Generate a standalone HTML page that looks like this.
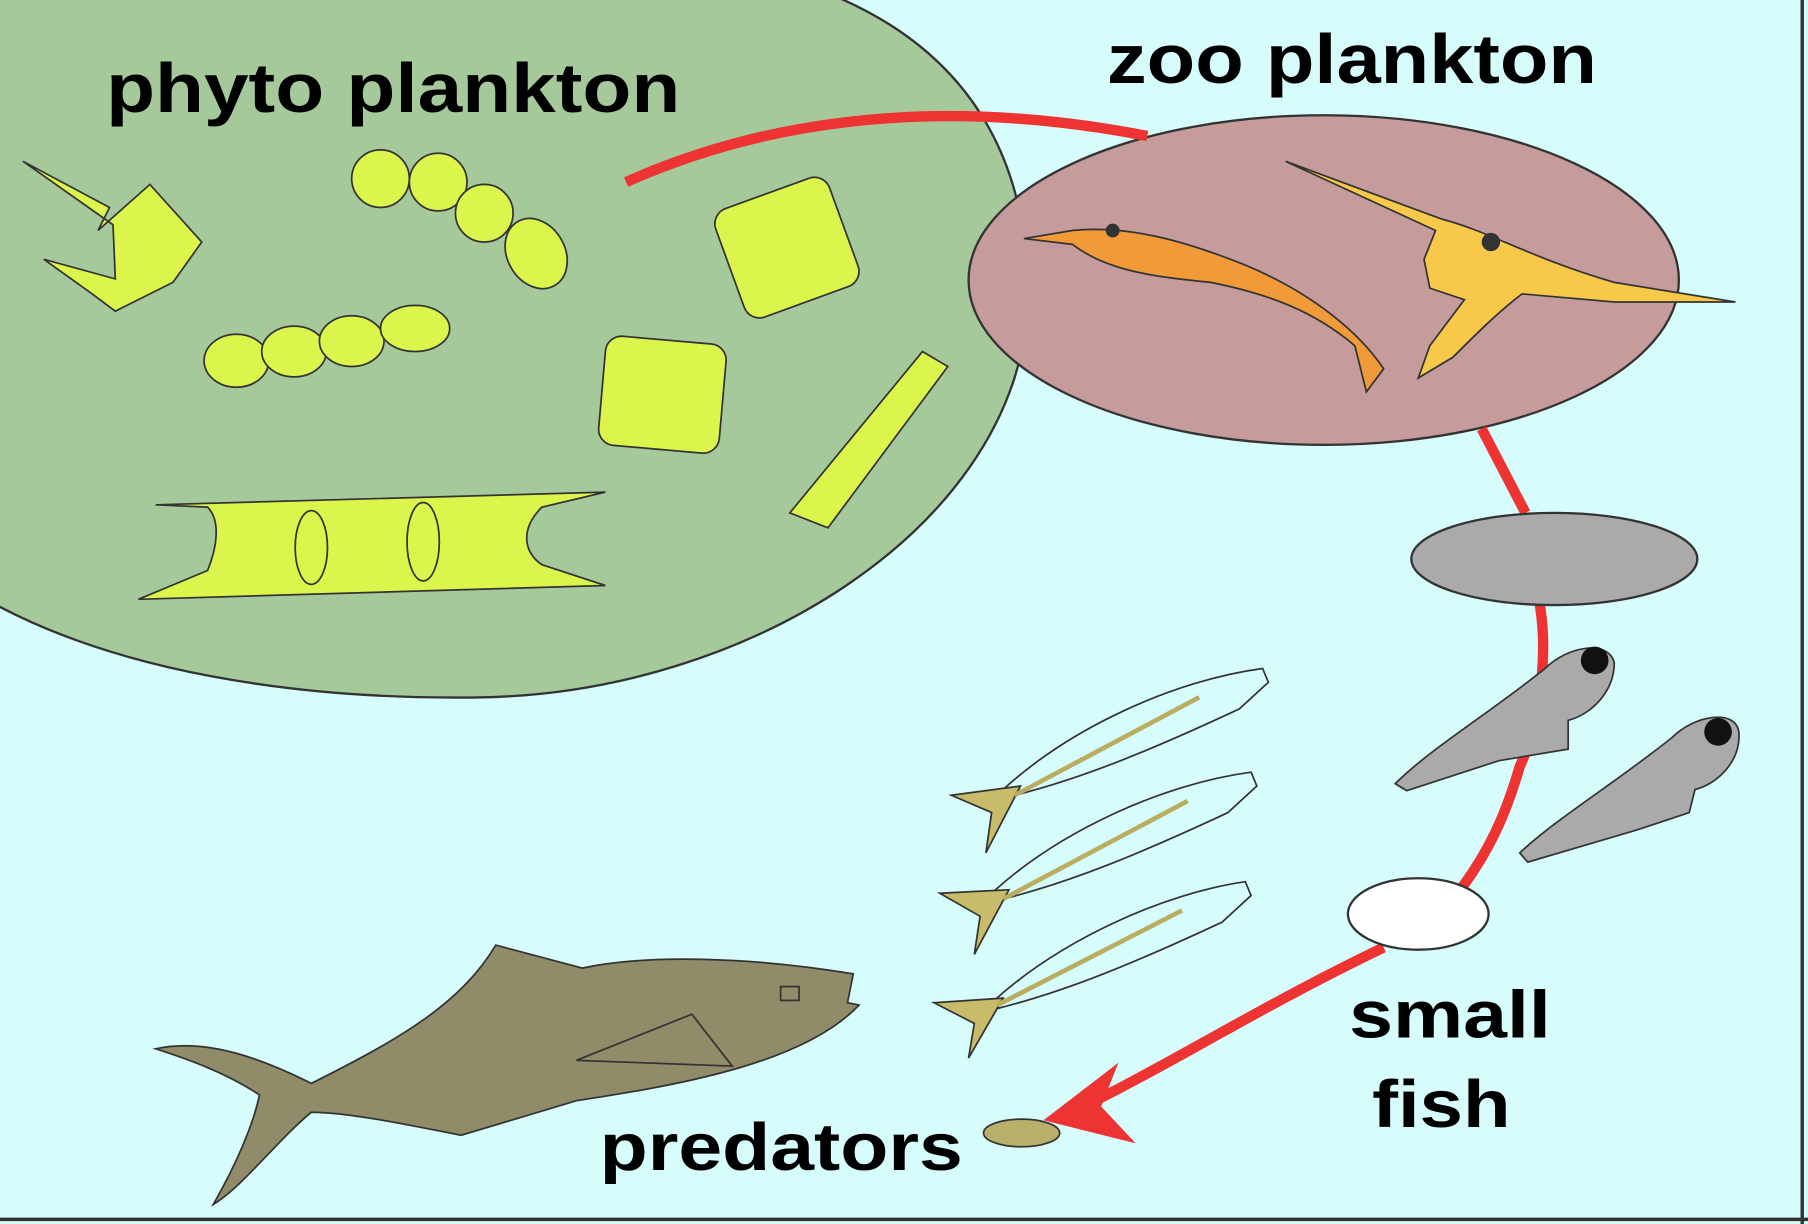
<!DOCTYPE html>
<html><head><style>
html,body{margin:0;padding:0;background:#d6fcfc;}
svg{display:block;}
text{font-family:"Liberation Sans",sans-serif;font-weight:bold;fill:#000;}
</style></head><body>
<svg width="1808" height="1224" viewBox="0 0 1568 1062" preserveAspectRatio="none" xmlns="http://www.w3.org/2000/svg">
<rect x="0" y="0" width="1568" height="1062" fill="#d6fcfc"/>
<line x1="1563" y1="0" x2="1563" y2="1062" stroke="#333" stroke-width="3"/>
<line x1="0" y1="1058" x2="1568" y2="1058" stroke="#333" stroke-width="3"/>
<path d="M-3,-5 L720,-5 C830,40 900,130 890,280 C870,460 650,600 420,605 C250,608 100,580 -3,525 Z" fill="#a6c99c" stroke="#333" stroke-width="2"/>
<ellipse cx="1148" cy="243" rx="308" ry="143" fill="#c59b9b" stroke="#333" stroke-width="2"/>
<path d="M543,158 C650,110 800,80 995,118" fill="none" stroke="#ee3333" stroke-width="9"/>
<path d="M1285,372 L1323,445" fill="none" stroke="#ee3333" stroke-width="9"/>
<path d="M1335,522 C1345,580 1330,640 1318,665 C1305,710 1290,740 1268,770" fill="none" stroke="#ee3333" stroke-width="9"/>
<path d="M1200,822 C1100,870 1020,920 950,955" fill="none" stroke="#ee3333" stroke-width="9"/>
<path d="M905,972 L970,922 L955,960 L985,992 Z" fill="#ee3333"/>
<ellipse cx="1348" cy="485" rx="124" ry="40" fill="#aaaaaa" stroke="#333" stroke-width="2"/>
<ellipse cx="1230" cy="793" rx="61" ry="31" fill="#fff" stroke="#333" stroke-width="2"/>
<ellipse cx="886" cy="983" rx="33" ry="12" fill="#b8b06a" stroke="#333" stroke-width="1.5"/>
<g fill="#dcf54c" stroke="#333" stroke-width="1.5">
<path d="M20,140 L95,180 L85,200 L130,160 L175,210 L150,245 L100,270 L80,255 L38,225 L100,242 L98,195 Z"/>
<circle cx="330" cy="155" r="25"/><circle cx="380" cy="158" r="25"/><circle cx="420" cy="185" r="25"/>
<ellipse cx="465" cy="220" rx="25" ry="32" transform="rotate(-30 465 220)"/>
<ellipse cx="205" cy="313" rx="28" ry="23"/><ellipse cx="255" cy="305" rx="28" ry="22"/><ellipse cx="305" cy="296" rx="28" ry="22"/><ellipse cx="360" cy="285" rx="30" ry="20"/>
<rect x="630" y="165" width="105" height="100" rx="14" transform="rotate(-20 682 215)"/>
<rect x="522" y="295" width="105" height="95" rx="14" transform="rotate(5 575 342)"/>
<path d="M800,305 L822,318 L718,458 L685,445 Z"/>
<path d="M120,520 L180,495 C190,470 190,450 180,440 L135,438 L525,427 L470,440 C450,460 455,480 470,490 L525,508 Z"/>
<ellipse cx="270" cy="475" rx="14" ry="32" fill="none"/>
<ellipse cx="367" cy="470" rx="14" ry="34" fill="none"/>
</g>
<g stroke="#333" stroke-width="1.5">
<path d="M888,207 L930,200 C980,195 1030,210 1080,230 C1140,255 1180,290 1200,320 L1185,340 L1175,300 C1140,270 1100,255 1050,245 C1000,240 960,235 930,212 Z" fill="#f09a3a"/>
<path d="M1115,140 L1250,190 C1290,200 1330,225 1400,245 L1505,262 L1400,262 L1320,255 C1300,270 1280,290 1260,310 L1230,328 L1240,300 L1270,260 L1240,250 L1235,225 L1245,200 Z" fill="#f8c84a"/>
</g>
<circle cx="965" cy="200" r="6" fill="#333"/>
<circle cx="1293" cy="210" r="8" fill="#333"/>
<g fill="#aaaaaa" stroke="#333" stroke-width="1.5">
<path d="M1210,680 C1240,650 1290,620 1340,580 C1360,560 1395,555 1400,575 C1400,600 1380,620 1360,625 L1360,650 L1300,660 L1220,686 Z"/>
<path d="M1318,740 C1350,710 1400,680 1450,640 C1470,620 1505,615 1508,635 C1510,660 1490,680 1470,685 L1465,705 L1420,720 L1325,748 Z"/>
</g>
<circle cx="1383" cy="573" r="12" fill="#111"/>
<circle cx="1490" cy="635" r="12" fill="#111"/>
<g stroke="#333" stroke-width="1.5">
<path d="M870,685 C930,630 1020,590 1095,580 L1100,592 L1075,615 C1000,650 940,675 880,690 Z" fill="#d6fcfc"/>
<path d="M825,690 L885,682 L855,740 L860,705 Z" fill="#c8bb6a"/>
<path d="M860,775 C920,720 1010,680 1085,670 L1090,682 L1065,705 C990,740 930,765 870,780 Z" fill="#d6fcfc"/>
<path d="M815,775 L875,772 L845,828 L850,795 Z" fill="#c8bb6a"/>
<path d="M860,870 C920,815 1010,775 1080,765 L1085,777 L1060,800 C985,835 925,860 865,875 Z" fill="#d6fcfc"/>
<path d="M810,870 L870,866 L840,918 L845,888 Z" fill="#c8bb6a"/>
</g>
<g stroke="#b9ad5f" stroke-width="4">
<line x1="880" y1="690" x2="1040" y2="605"/><line x1="870" y1="780" x2="1030" y2="695"/><line x1="865" y1="872" x2="1025" y2="790"/>
</g>
<path d="M135,910 C180,900 230,920 270,940 C350,900 400,870 430,820 L505,840 C560,828 650,830 740,845 L735,870 L745,872 C700,920 600,940 500,955 L400,985 C350,975 300,965 270,965 C240,990 210,1030 185,1045 C205,1010 220,975 225,950 C195,930 160,918 135,910 Z" fill="#908b68" stroke="#333" stroke-width="1.5"/>
<path d="M500,920 L600,880 L635,925 Z" fill="none" stroke="#333" stroke-width="1.5"/>
<rect x="677" y="856" width="16" height="12" fill="none" stroke="#333" stroke-width="1.5"/>
<text x="92" y="97" font-size="60" textLength="498" lengthAdjust="spacingAndGlyphs">phyto plankton</text>
<text x="960" y="72" font-size="60" textLength="425" lengthAdjust="spacingAndGlyphs">zoo plankton</text>
<text x="1170" y="900" font-size="58" textLength="175" lengthAdjust="spacingAndGlyphs">small</text>
<text x="1190" y="978" font-size="58" textLength="120" lengthAdjust="spacingAndGlyphs">fish</text>
<text x="520" y="1015" font-size="58" textLength="315" lengthAdjust="spacingAndGlyphs">predators</text>
</svg>
</body></html>
